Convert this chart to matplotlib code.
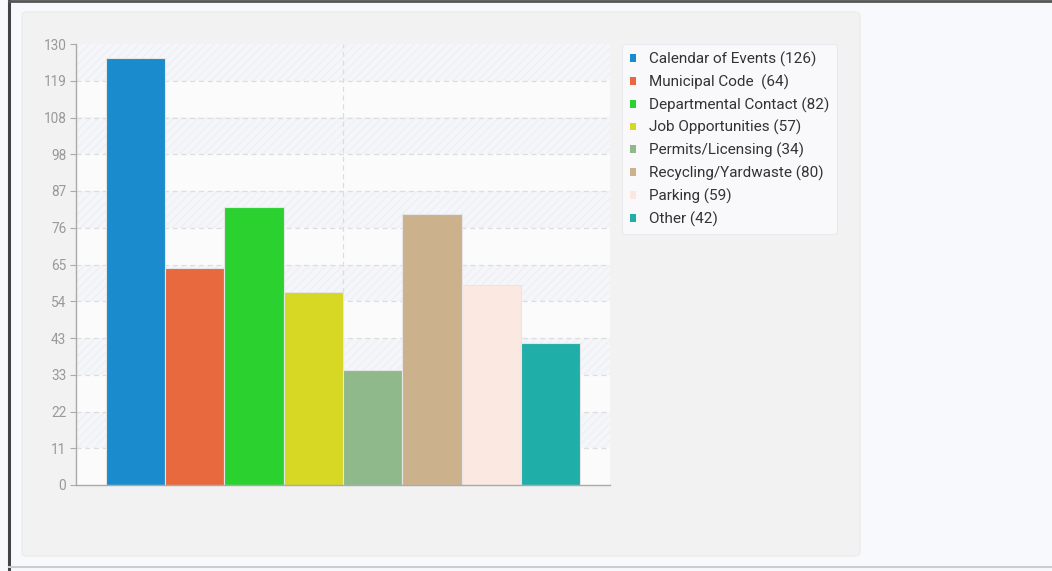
import matplotlib.pyplot as plt
import numpy as np
from matplotlib.patches import FancyBboxPatch, Rectangle
from matplotlib.lines import Line2D

# page-view counts per section
categories = ["Calendar of Events", "Municipal Code ", "Departmental Contact",
              "Job Opportunities", "Permits/Licensing", "Recycling/Yardwaste",
              "Parking", "Other"]
values = [126, 64, 82, 57, 34, 80, 59, 42]
colors = ["#1a8bcd", "#e8693d", "#2ad12f", "#d7d823", "#8fb98a",
          "#ccb18d", "#fbe8e0", "#20aea8"]
ymax = 130
ticks = [ymax * i / 12 for i in range(13)]
tick_labels = [str(int(np.floor(t + 0.5))) for t in ticks]

plt.rcParams['font.family'] = ['Roboto', 'DejaVu Sans']

fig = plt.figure(figsize=(10.52, 5.71), dpi=100)
fig.patch.set_facecolor("#f8f9fc")
W, H = 1052, 571

def fx(px):
    return px / W

def fy(py):
    return 1 - py / H

# outer frame lines
fig.add_artist(Line2D([fx(9), fx(9)], [0, 1], color="#444444", lw=2.2, zorder=-5))
fig.add_artist(Line2D([fx(9), 1], [fy(1), fy(1)], color="#555555", lw=2, zorder=-5))
fig.add_artist(Line2D([fx(9), 1], [fy(567), fy(567)], color="#cccccc", lw=1.5, zorder=-5))

# grey panel behind the chart
panel = FancyBboxPatch((fx(22), fy(556)), fx(860) - fx(22), fy(12) - fy(556),
                       boxstyle="round,pad=0,rounding_size=0.006",
                       transform=fig.transFigure, facecolor="#f2f2f2",
                       edgecolor="#ececec", lw=1, zorder=-10)
fig.add_artist(panel)

ax = fig.add_axes([fx(76), fy(485), fx(610) - fx(76), fy(44) - fy(485)])
ax.set_facecolor("#fbfbfb")

x = np.arange(len(values))
ax.set_xlim(-1, len(values))
ax.set_ylim(0, ymax)

# alternating faint bands with diagonal hatch
for i in range(12):
    if i % 2 == 1:
        ax.axhspan(ticks[i], ticks[i + 1], facecolor="#f5f6fa",
                   edgecolor="#eef0f5", hatch="////", lw=0, zorder=0)

for t in ticks[1:-1]:
    ax.axhline(t, color="#dddddd", lw=0.9, ls=(0, (4, 3)), zorder=1)
ax.axvline(3.5, color="#dddddd", lw=0.9, ls=(0, (4, 3)), zorder=1)

ax.bar(x, values, width=1.0, color=colors, edgecolor="#e6e6e6",
       linewidth=0.8, zorder=2)

ax.set_yticks(ticks)
ax.set_yticklabels(tick_labels)
ax.set_xticks([])
ax.tick_params(axis="y", colors="#aaaaaa", labelcolor="#999999",
               labelsize=9.8, length=4, width=0.8, pad=3)
for side in ["top", "right"]:
    ax.spines[side].set_visible(False)
for side in ["left", "bottom"]:
    ax.spines[side].set_color("#aaaaaa")
    ax.spines[side].set_linewidth(1)

handles = [Rectangle((0, 0), 1, 1, facecolor=c, edgecolor="none")
           for c in colors]
labels = [f"{c} ({v})" for c, v in zip(categories, values)]
leg = ax.legend(handles, labels, loc="upper left",
                bbox_to_anchor=(fx(622), fy(44)), bbox_transform=fig.transFigure,
                borderaxespad=0, frameon=True, fontsize=11,
                handlelength=0.4, handleheight=0.4, handletextpad=0.85,
                labelspacing=0.49, borderpad=0.5, labelcolor="#333333",
                fancybox=True)
leg.get_frame().set_facecolor("#fbfcfe")
leg.get_frame().set_edgecolor("#e8e8ec")
leg.get_frame().set_linewidth(0.8)

fig.savefig("out.png", dpi=100, facecolor=fig.get_facecolor())
